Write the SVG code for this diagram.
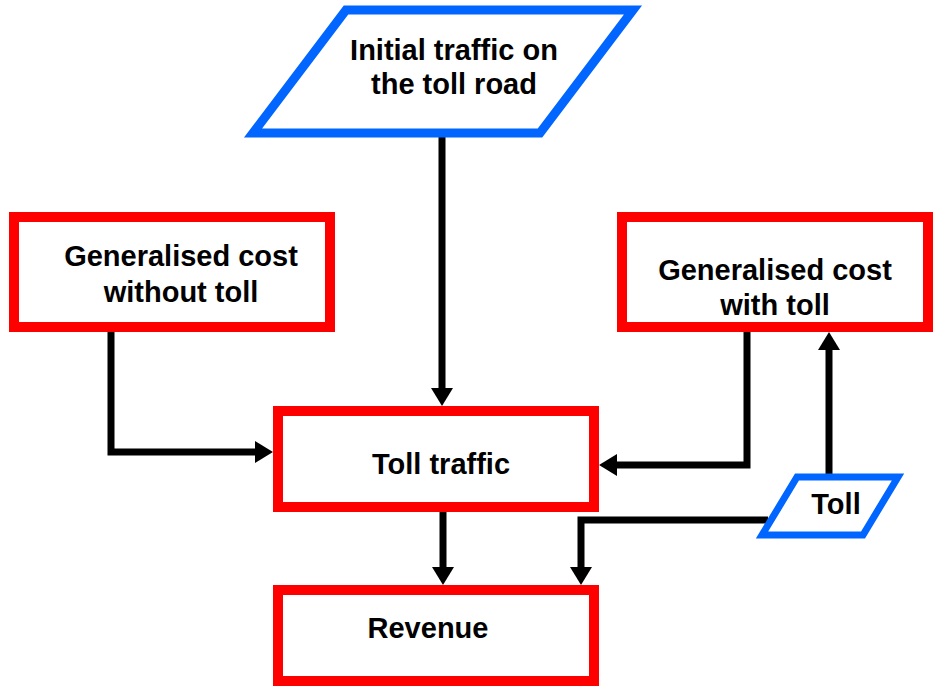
<svg xmlns="http://www.w3.org/2000/svg" width="934" height="686" viewBox="0 0 934 686">
  <style>
    .box { fill: #ffffff; stroke: #ff0000; stroke-width: 10; }
    .io { fill: #ffffff; stroke: #0066ff; stroke-linejoin: miter; }
    .lbl { font-family: "Liberation Sans", Arial, sans-serif; font-weight: bold; font-size: 29px; fill: #000000; text-anchor: middle; }
    .wire { fill: none; stroke: #000000; stroke-width: 7; stroke-linejoin: miter; }
  </style>
  <defs>
    <marker id="head" viewBox="0 0 18 22" refX="0" refY="11" markerWidth="18" markerHeight="22" markerUnits="userSpaceOnUse" orient="auto">
      <path d="M0,0 L18,11 L0,22 Z" fill="#000000"/>
    </marker>
  </defs>
  <rect width="934" height="686" fill="#ffffff"/>

  <g id="connectors">
    <!-- initial traffic -> toll traffic -->
    <path class="wire" d="M442,134 V388" marker-end="url(#head)"/>
    <!-- cost without toll -> toll traffic -->
    <path class="wire" d="M111,332 V452 H255" marker-end="url(#head)"/>
    <!-- cost with toll -> toll traffic -->
    <path class="wire" d="M747,332 V465 H617" marker-end="url(#head)"/>
    <!-- toll -> cost with toll -->
    <path class="wire" d="M829,476 V350" marker-end="url(#head)"/>
    <!-- toll -> revenue -->
    <path class="wire" d="M768,520 H581 V567" marker-end="url(#head)"/>
    <!-- toll traffic -> revenue -->
    <path class="wire" d="M443,512 V567" marker-end="url(#head)"/>
  </g>

  <g id="initial-traffic">
    <polygon class="io" stroke-width="9" points="346,10 633,10 540,133 253,133"/>
    <text class="lbl" x="454" y="60">Initial traffic on</text>
    <text class="lbl" x="454" y="94">the toll road</text>
  </g>

  <g id="cost-without-toll">
    <rect class="box" x="14" y="217" width="316" height="110"/>
    <text class="lbl" x="181" y="266">Generalised cost</text>
    <text class="lbl" x="181" y="302">without toll</text>
  </g>

  <g id="cost-with-toll">
    <rect class="box" x="622" y="217" width="306" height="110"/>
    <text class="lbl" x="775" y="280">Generalised cost</text>
    <text class="lbl" x="775" y="315">with toll</text>
  </g>

  <g id="toll-traffic">
    <rect class="box" x="278" y="411" width="316" height="96"/>
    <text class="lbl" x="441" y="474">Toll traffic</text>
  </g>

  <g id="toll">
    <polygon class="io" stroke-width="7" points="797,477 898,477 863,535 762,535"/>
    <text class="lbl" x="836" y="514">Toll</text>
  </g>

  <g id="revenue">
    <rect class="box" x="278" y="590" width="316" height="91"/>
    <text class="lbl" x="428" y="638">Revenue</text>
  </g>
</svg>
